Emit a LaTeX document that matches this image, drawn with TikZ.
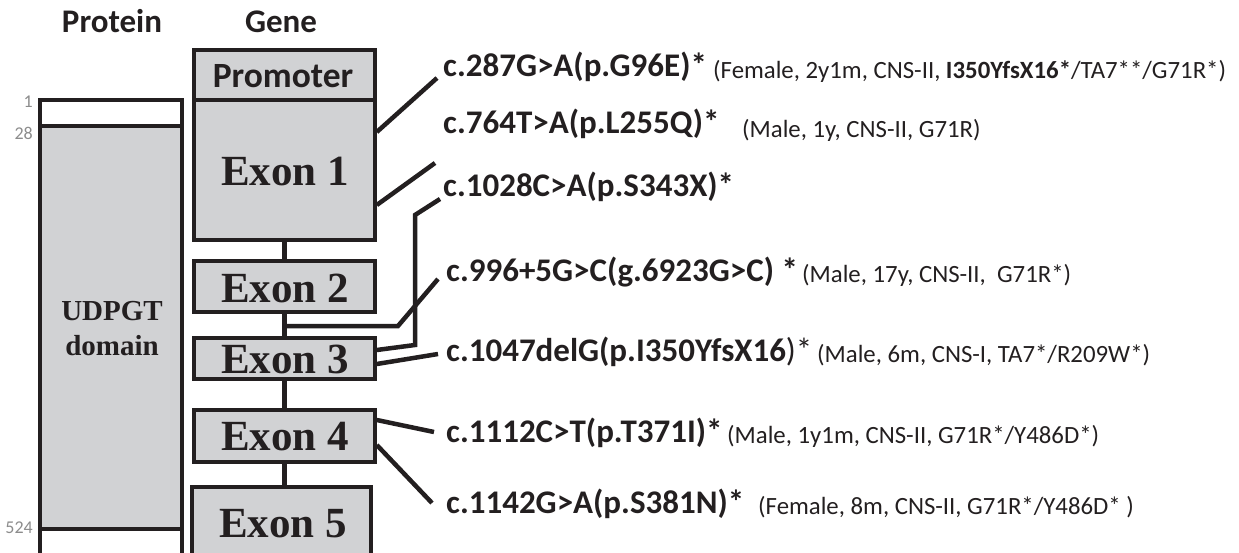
\documentclass[tikz,border=0pt]{standalone}
\usepackage{fontspec}
\setmainfont{Carlito}
\newfontfamily\tms{Liberation Serif}
\definecolor{boxgray}{HTML}{D1D2D4}
\definecolor{ink}{HTML}{231F20}
\definecolor{numgray}{HTML}{8C8C8C}
\begin{document}
\begin{tikzpicture}[x=1pt,y=-1pt,
  box/.style={draw=ink,line width=3.6pt,fill=boxgray,rectangle,inner sep=0pt,minimum width=181pt},
  conn/.style={draw=ink,line width=4.5pt},
  exlab/.style={anchor=base,inner sep=0pt,text=ink,font=\tms\bfseries\fontsize{43}{43}\selectfont},
  head/.style={anchor=base,inner sep=0pt,text=ink,font=\bfseries\fontsize{33}{33}\selectfont},
  mut/.style={anchor=base west,inner sep=0pt,text=ink,font=\bfseries\fontsize{33}{33}\selectfont},
  info/.style={anchor=base west,inner sep=0pt,text=ink,font=\fontsize{24.8}{24.8}\selectfont},
  num/.style={anchor=base east,inner sep=0pt,text=numgray,font=\fontsize{18}{18}\selectfont}]
\useasboundingbox (0,0) rectangle (1239,553);
\begin{scope}
\clip (0,0) rectangle (1239,553);
% headers
\node[head] (hprot) at (112,33) {Protein};
\node[head] (hgene) at (281,33) {Gene};
% protein bar
\node[box,fill=white,minimum width=142pt,minimum height=480pt] (prot) at (111,340) {};
\node[box,minimum width=142pt,minimum height=403pt] (dom) at (111,327.5) {};
\node[anchor=base,inner sep=0pt,text=ink,font=\tms\bfseries\fontsize{29}{35}\selectfont] (udp) at (112,320) {UDPGT};
\node[anchor=base,inner sep=0pt,text=ink,font=\tms\bfseries\fontsize{29}{35}\selectfont] (udp2) at (112,355) {domain};
\node[num] (n1) at (33,108) {1};
\node[num] (n28) at (33,140) {28};
\node[num] (n524) at (33,533) {524};
% gene boxes
\node[box,minimum height=140pt] (ex1) at (284.5,170) {};
\node[box,minimum height=50pt] (prom) at (284.5,75) {};
\node[box,minimum height=51pt] (ex2) at (284.5,286.5) {};
\node[box,minimum height=41pt] (ex3) at (284.5,358.5) {};
\node[box,minimum height=52pt] (ex4) at (284.5,436) {};
\node[box,minimum width=179pt,minimum height=90pt] (ex5) at (281.5,532) {};
\draw[conn] (ex1.south) -- (ex2.north);
\draw[conn] (ex2.south) -- (ex3.north);
\draw[conn] (ex3.south) -- (ex4.north);
\draw[conn] (ex4.south) -- (ex4.south |- ex5.north);
\node[anchor=base,inner sep=0pt,text=ink,font=\bfseries\fontsize{35.5}{35.5}\selectfont] (tprom) at (283,88) {Promoter};
\node[exlab] (t1) at (285,186) {Exon 1};
\node[exlab] (t2) at (285,302) {Exon 2};
\node[exlab] (t3) at (285,373) {Exon 3};
\node[exlab] (t4) at (285,450) {Exon 4};
\node[exlab] (t5) at (283,537) {Exon 5};
\end{scope}
% mutation labels
\node[mut] (m1) at (443,77) {c.287G>A(p.G96E)*};
\node[info] (i1) at (713,79) {(Female, 2y1m, CNS-II, \textbf{I350YfsX16*}/TA7**/G71R*)};
\node[mut] (m2) at (443,134) {c.764T>A(p.L255Q)*};
\node[info] (i2) at (742,138) {(Male, 1y, CNS-II, G71R)};
\node[mut] (m3) at (443,197) {c.1028C>A(p.S343X)*};
\node[mut] (m4) at (446,282) {c.996+5G>C(g.6923G>C) *};
\node[info] (i4) at (802,283) {(Male, 17y, CNS-II,\ \ G71R*)};
\node[mut] (m5) at (446,361) {c.1047delG(p.I350YfsX16\mdseries)*};
\node[info] (i5) at (817,362) {(Male, 6m, CNS-I, TA7*/R209W*)};
\node[mut] (m6) at (446,442) {c.1112C>T(p.T371I)*};
\node[info] (i6) at (727,443) {(Male, 1y1m, CNS-II, G71R*/Y486D*)};
\node[mut] (m7) at (446,513) {c.1142G>A(p.S381N)*};
\node[info] (i7) at (758,514) {(Female, 8m, CNS-II, G71R*/Y486D* )};
% connectors
\coordinate (e1) at (437,78);
\coordinate (e2) at (435,163);
\coordinate (e3) at (440,199);
\coordinate (e4) at (438,279);
\coordinate (e5) at (438,354);
\coordinate (e6) at (434,432);
\coordinate (e7) at (432,503);
\draw[conn] (ex1.east |- 0,132) -- (e1);
\draw[conn] (ex1.east |- 0,205) -- (e2);
\draw[conn] (ex3.east |- 0,350) -- (415,345) -- (415,215) -- (e3);
\draw[conn] (ex2.south |- 0,326) -- (398,326) -- (e4);
\draw[conn] (ex3.east |- 0,364) -- (e5);
\draw[conn] (ex4.east |- 0,420) -- (e6);
\draw[conn] (ex4.east |- 0,445) -- (e7);
\end{tikzpicture}
\end{document}
